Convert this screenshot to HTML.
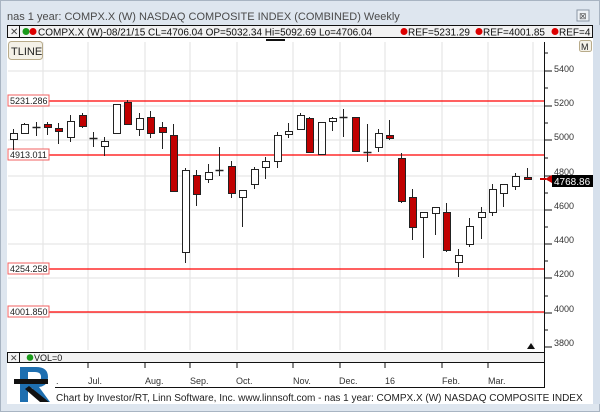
<!DOCTYPE html>
<html><head><meta charset="utf-8"><style>
html,body{margin:0;padding:0;background:#dde5ee;}
svg{display:block;font-family:"Liberation Sans",sans-serif;}
</style></head><body>
<svg width="600" height="412" viewBox="0 0 600 412" xmlns="http://www.w3.org/2000/svg">
<rect x="0" y="0" width="600" height="412" fill="#dee6ef"/>
<rect x="0.5" y="0.5" width="599" height="411" fill="none" stroke="#a8b4c2"/>
<text x="7" y="20" font-size="11" fill="#4a4a4a">nas 1 year: COMPX.X (W) NASDAQ COMPOSITE INDEX (COMBINED) Weekly</text>
<rect x="577" y="10" width="12" height="11" fill="#eef2f6" stroke="#8a96a4"/>
<text x="579" y="19" font-size="9" fill="#555">⊠</text>
<rect x="7" y="25" width="587" height="379" fill="#fff"/>
<rect x="593" y="25" width="7" height="379" fill="#d6e0ec"/>
<g stroke="#e6e6e6" stroke-width="1.2">
<line x1="43" y1="42" x2="43" y2="350"/><line x1="88" y1="42" x2="88" y2="350"/><line x1="145" y1="42" x2="145" y2="350"/><line x1="190" y1="42" x2="190" y2="350"/><line x1="237" y1="42" x2="237" y2="350"/><line x1="293" y1="42" x2="293" y2="350"/><line x1="340" y1="42" x2="340" y2="350"/><line x1="385" y1="42" x2="385" y2="350"/><line x1="442" y1="42" x2="442" y2="350"/><line x1="488" y1="42" x2="488" y2="350"/><line x1="533" y1="42" x2="533" y2="350"/>
<line x1="8" y1="71" x2="544" y2="71"/><line x1="8" y1="106" x2="544" y2="106"/><line x1="8" y1="140" x2="544" y2="140"/><line x1="8" y1="176" x2="544" y2="176"/><line x1="8" y1="210" x2="544" y2="210"/><line x1="8" y1="244" x2="544" y2="244"/><line x1="8" y1="278" x2="544" y2="278"/><line x1="8" y1="313" x2="544" y2="313"/>
</g>
<g stroke="#ff0000" stroke-width="1.2">
<line x1="8" y1="101" x2="544" y2="101"/><line x1="8" y1="155" x2="544" y2="155"/><line x1="8" y1="269" x2="544" y2="269"/><line x1="8" y1="312" x2="544" y2="312"/>
</g>
<g font-size="9" fill="#222">
<rect x="8" y="95" width="41" height="11" fill="#fff" stroke="#f06060"/><text x="10" y="104">5231.286</text>
<rect x="8" y="149" width="41" height="11" fill="#fff" stroke="#f06060"/><text x="10" y="158">4913.011</text>
<rect x="8" y="263" width="41" height="11" fill="#fff" stroke="#f06060"/><text x="10" y="272">4254.258</text>
<rect x="8" y="306" width="41" height="11" fill="#fff" stroke="#f06060"/><text x="10" y="315">4001.850</text>
</g>
<g id="candles" stroke="#222" stroke-width="1"></g>
<line x1="544.5" y1="42" x2="544.5" y2="352" stroke="#111"/>
<g stroke="#111">
<line x1="544" y1="53" x2="548" y2="53"/><line x1="544" y1="71" x2="552" y2="71"/><line x1="544" y1="88" x2="548" y2="88"/><line x1="544" y1="106" x2="552" y2="106"/><line x1="544" y1="123" x2="548" y2="123"/><line x1="544" y1="140" x2="552" y2="140"/><line x1="544" y1="158" x2="548" y2="158"/><line x1="544" y1="176" x2="552" y2="176"/><line x1="544" y1="193" x2="548" y2="193"/><line x1="544" y1="210" x2="552" y2="210"/><line x1="544" y1="227" x2="548" y2="227"/><line x1="544" y1="244" x2="552" y2="244"/><line x1="544" y1="261" x2="548" y2="261"/><line x1="544" y1="278" x2="552" y2="278"/><line x1="544" y1="296" x2="548" y2="296"/><line x1="544" y1="313" x2="552" y2="313"/><line x1="544" y1="330" x2="548" y2="330"/><line x1="544" y1="347" x2="552" y2="347"/>
</g>
<g font-size="9" fill="#333">
<text x="554" y="72">5400</text><text x="554" y="106">5200</text><text x="554" y="140">5000</text><text x="554" y="175">4800</text><text x="554" y="209">4600</text><text x="554" y="243">4400</text><text x="554" y="277">4200</text><text x="554" y="312">4000</text><text x="554" y="346">3800</text>
</g>
<line x1="540" y1="179" x2="546" y2="179" stroke="#c00" stroke-width="2"/>
<polygon points="545,179 552,175 552,183" fill="#c00"/>
<rect x="552" y="175" width="41" height="12" fill="#000"/>
<text x="554" y="185" font-size="10" fill="#fff">4768.86</text>
<polygon points="527,349 531,343 535,349" fill="#111"/>
<rect x="7.5" y="25.5" width="585" height="12" fill="#f2f2f2" stroke="#111"/>
<line x1="19.5" y1="26" x2="19.5" y2="37" stroke="#111"/>
<text x="10" y="35" font-size="10" fill="#444">✕</text>
<circle cx="26" cy="31.5" r="3.5" fill="#1a9a1a"/><circle cx="33" cy="31.5" r="3.5" fill="#d00"/>
<text x="38" y="35.5" font-size="10" fill="#111">COMPX.X (W)-08/21/15 CL=4706.04 OP=5032.34 Hi=5092.69 Lo=4706.04</text>
<circle cx="404" cy="31.5" r="3.5" fill="#d00"/><text x="408" y="35.5" font-size="10" fill="#111">REF=5231.29</text>
<circle cx="479" cy="31.5" r="3.5" fill="#d00"/><text x="483" y="35.5" font-size="10" fill="#111">REF=4001.85</text>
<circle cx="555" cy="31.5" r="3.5" fill="#d00"/><text x="559" y="35.5" font-size="10" fill="#111">REF=4</text>
<rect x="266" y="39" width="19" height="2" fill="#111"/>
<rect x="8.5" y="41.5" width="34" height="18" rx="3" fill="#f4f1e8" stroke="#b8ab8a"/>
<text x="11" y="55" font-size="11" fill="#222">TLINE</text>
<rect x="579.5" y="40.5" width="12" height="11" rx="2" fill="#f4f1e8" stroke="#b8ab8a"/>
<text x="581" y="50" font-size="9" fill="#222">M</text>
<rect x="7.5" y="352.5" width="537" height="10" fill="#f2f2f2" stroke="#111"/>
<line x1="19.5" y1="353" x2="19.5" y2="362" stroke="#111"/>
<text x="10" y="361" font-size="9" fill="#444">✕</text>
<circle cx="30" cy="357.5" r="3.3" fill="#1a9a1a"/>
<text x="34" y="361" font-size="9" fill="#111">VOL=0</text>
<line x1="55" y1="387.5" x2="544" y2="387.5" stroke="#111"/>
<line x1="544.5" y1="363" x2="544.5" y2="388" stroke="#111"/>
<g stroke="#111"><line x1="88" y1="363" x2="88" y2="368"/><line x1="145" y1="363" x2="145" y2="368"/><line x1="190" y1="363" x2="190" y2="368"/><line x1="237" y1="363" x2="237" y2="368"/><line x1="293" y1="363" x2="293" y2="368"/><line x1="340" y1="363" x2="340" y2="368"/><line x1="385" y1="363" x2="385" y2="368"/><line x1="442" y1="363" x2="442" y2="368"/><line x1="488" y1="363" x2="488" y2="368"/></g>
<g font-size="9" fill="#333">
<text x="56" y="384">.</text><text x="88" y="384">Jul.</text><text x="145" y="384">Aug.</text><text x="190" y="384">Sep.</text><text x="236" y="384">Oct.</text><text x="293" y="384">Nov.</text><text x="339" y="384">Dec.</text><text x="385" y="384">16</text><text x="442" y="384">Feb.</text><text x="488" y="384">Mar.</text>
</g>
<text x="56" y="401" font-size="10" fill="#222">Chart by Investor/RT, Linn Software, Inc. www.linnsoft.com - nas 1 year: COMPX.X (W) NASDAQ COMPOSITE INDEX</text>
<path d="M20,367 h16 q12,0 12,10 q0,9 -9,10 l11,15 h-8 l-10,-14 h-4 v14 h-8 z" fill="#1e6fb0"/>
<path d="M28,372 h7 q6,0 6,5 q0,6 -6,6 h-7z" fill="#fff"/>
<path d="M29,386 l20,16 h-9 l-15,-13z" fill="#111"/>
<rect x="14" y="379" width="34" height="5" fill="#111"/>
</svg>
<script>
var d=[[13,133,139,129,150,'w'],[24,124,133,123,131,'w'],[36,127,127,122,136,'d'],[47,124,127,122,135,'r'],[58,128,131,123,144,'r'],[70,121,137,115,142,'w'],[82,115,126,113,128,'r'],[93,138,138,132,147,'d'],[104,141,146,137,156,'w'],[116,104,133,104,133,'w'],[127,102,124,100,124,'r'],[139,118,129,113,136,'w'],[150,117,133,111,138,'r'],[162,127,132,122,149,'r'],[173,135,191,124,191,'r'],[185,170,252,168,263,'w'],[196,175,194,170,206,'r'],[208,172,179,164,183,'w'],[219,170,170,147,176,'d'],[231,166,193,161,198,'r'],[242,190,197,190,227,'w'],[254,169,184,167,189,'w'],[265,161,167,157,179,'w'],[277,135,161,132,168,'w'],[288,131,134,123,138,'w'],[300,115,129,113,129,'w'],[309,118,152,117,153,'r'],[321,122,154,122,154,'w'],[332,118,121,117,131,'w'],[343,117,117,109,137,'d'],[355,117,151,117,151,'r'],[367,152,152,124,162,'d'],[378,133,147,129,152,'w'],[389,135,138,120,140,'r'],[401,158,201,153,203,'r'],[412,197,227,189,240,'r'],[423,212,217,212,258,'w'],[435,207,213,207,235,'w'],[446,212,250,203,252,'r'],[458,255,262,249,277,'w'],[469,226,244,218,247,'w'],[481,212,217,207,239,'w'],[492,189,212,184,216,'w'],[503,184,193,184,207,'w'],[515,176,186,173,190,'w'],[527,177,179,168,179,'r']];
var g=document.getElementById('candles'),s='';
d.forEach(function(c){var x=c[0];
s+='<line x1="'+(x+.5)+'" y1="'+c[3]+'" x2="'+(x+.5)+'" y2="'+c[4]+'"/>';
if(c[5]=='d'){s+='<line x1="'+(x-3.5)+'" y1="'+(c[1]+.5)+'" x2="'+(x+4.5)+'" y2="'+(c[1]+.5)+'" stroke-width="1.5"/>';}
else{var h=Math.max(c[2]-c[1],2);s+='<rect x="'+(x-3+.5)+'" y="'+(c[1]+.5)+'" width="7" height="'+h+'" fill="'+(c[5]=='r'?'#c00000':'#fff')+'"/>';}
});
g.innerHTML=s;
</script>
</body></html>
